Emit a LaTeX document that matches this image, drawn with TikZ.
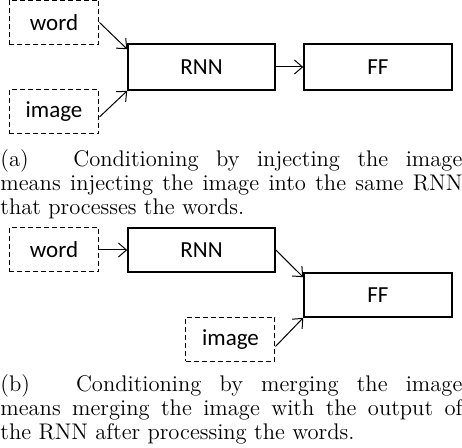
\documentclass[tikz,border=0pt]{standalone}
\usepackage{fontspec}
\newfontfamily\boxfont{Carlito}
\usetikzlibrary{arrows.meta}

\tikzset{
  block/.style={draw, line width=0.8pt, minimum height=22pt, inner sep=0pt, font=\boxfont\fontsize{11.5}{12}\selectfont},
  inbox/.style={block, line width=0.5pt, dash pattern=on 2.5pt off 1.5pt, minimum width=45pt},
  conn/.style={line width=0.5pt, -{Straight Barb[length=4pt,width=7pt]}},
  capt/.style={anchor=base west, inner sep=0pt, text width=231pt, align=justify, font=\fontsize{11.3}{12}\selectfont}
}

\begin{document}
\begin{tikzpicture}[x=0.5pt, y=-0.5pt]
  \useasboundingbox (0,0) rectangle (462,448);

  \node[inbox] (word) at (54,22.5) {word};
  \node[inbox] (image) at (54,112) {image};
  \node[block, minimum width=73.5pt, minimum height=23pt] (rnn) at (201.5,67) {RNN};
  \node[block, minimum width=74pt, minimum height=23pt] (ff) at (378,67) {FF};

  \draw[conn] (word.east) -- ([yshift=-3pt]rnn.north west);
  \draw[conn] ([yshift=-2.5pt]image.east) -- (rnn.south west);
  \draw[conn] (rnn.east) -- (ff.west);

  \node[capt] (capa) at (0,167) {(a)\hspace{1em plus 4pt}Conditioning by injecting the image\linebreak means injecting the image into the same RNN\linebreak that processes the words.};

  \node[inbox] (word2) at (54,250) {word};
  \node[block, minimum width=73.5pt] (rnn2) at (201.5,250) {RNN};
  \node[block, minimum width=74pt] (ff2) at (378,295) {FF};
  \node[inbox, minimum width=44.5pt] (image2) at (230.5,339.5) {image};

  \draw[conn] (word2.east) -- (rnn2.west);
  \draw[conn] (rnn2.east) -- ([yshift=-2.5pt]ff2.north west);
  \draw[conn] ([yshift=-3.5pt]image2.east) -- (ff2.south west);

  \node[capt] (capb) at (0,392) {(b)\hspace{1em plus 4pt}Conditioning by merging the image\linebreak means merging the image with the output of\linebreak the RNN after processing the words.};
\end{tikzpicture}
\end{document}
